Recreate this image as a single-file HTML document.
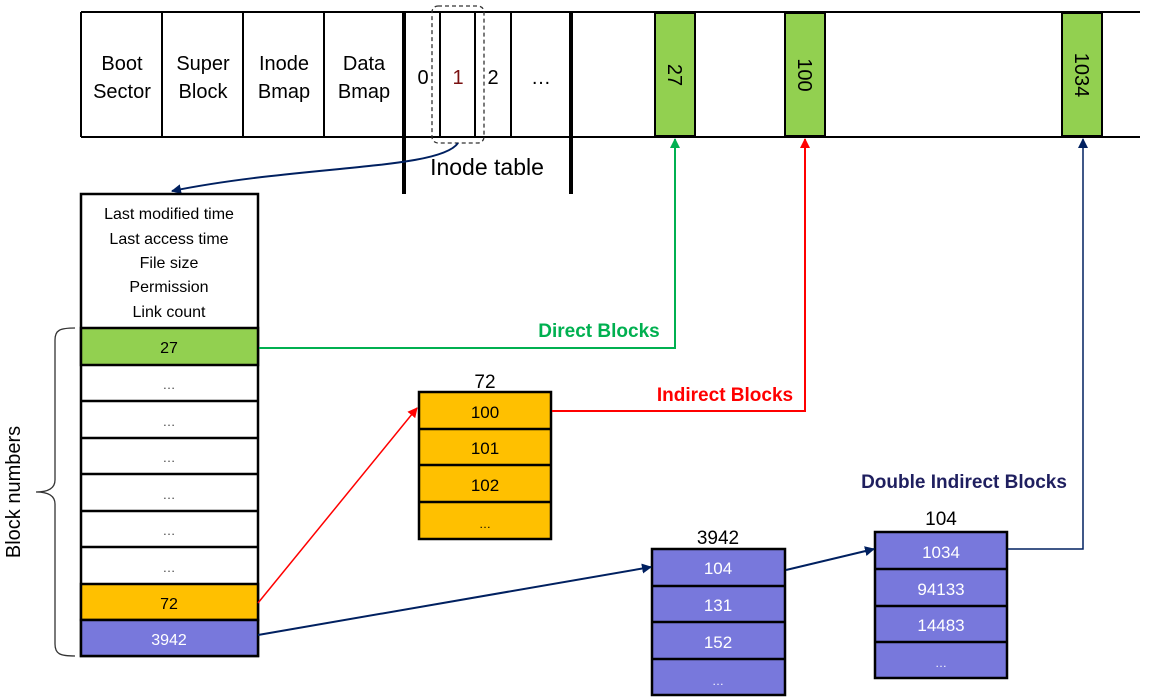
<!DOCTYPE html>
<html><head><meta charset="utf-8"><style>
html,body{margin:0;padding:0;background:#fff;}
svg{display:block;font-family:"Liberation Sans",sans-serif;}
</style></head><body>
<svg width="1151" height="698" viewBox="0 0 1151 698" xmlns="http://www.w3.org/2000/svg">
<defs>
<marker id="ag" markerWidth="10" markerHeight="10" refX="9" refY="5" orient="auto" markerUnits="userSpaceOnUse"><path d="M0,0 L10,5 L0,10 z" fill="#00b050"/></marker>
<marker id="ar" markerWidth="10" markerHeight="10" refX="9" refY="5" orient="auto" markerUnits="userSpaceOnUse"><path d="M0,0 L10,5 L0,10 z" fill="#ff0000"/></marker>
<marker id="an" markerWidth="10" markerHeight="10" refX="9" refY="5" orient="auto" markerUnits="userSpaceOnUse"><path d="M0,0 L10,5 L0,10 z" fill="#002060"/></marker>
</defs>
<g stroke="#000" stroke-width="2" fill="none">
<line x1="81" y1="12" x2="1140" y2="12"/>
<line x1="81" y1="137" x2="1140" y2="137"/>
<line x1="81" y1="12" x2="81" y2="137"/>
<line x1="162" y1="12" x2="162" y2="137"/>
<line x1="243" y1="12" x2="243" y2="137"/>
<line x1="324" y1="12" x2="324" y2="137"/>
<line x1="440" y1="12" x2="440" y2="137"/>
<line x1="475" y1="12" x2="475" y2="137"/>
<line x1="511" y1="12" x2="511" y2="137"/>
</g>
<line x1="404" y1="12" x2="404" y2="194" stroke="#000" stroke-width="4"/>
<line x1="571" y1="12" x2="571" y2="194" stroke="#000" stroke-width="4"/>
<g fill="#92d050" stroke="#000" stroke-width="2">
<rect x="655" y="13" width="40" height="123"/>
<rect x="785" y="13" width="40" height="123"/>
<rect x="1062" y="13" width="40" height="123"/>
</g>
<g font-size="20" text-anchor="middle" fill="#000">
<text x="122" y="70">Boot</text><text x="122" y="98">Sector</text>
<text x="203" y="70">Super</text><text x="203" y="98">Block</text>
<text x="284" y="70">Inode</text><text x="284" y="98">Bmap</text>
<text x="364" y="70">Data</text><text x="364" y="98">Bmap</text>
<text x="423" y="84">0</text>
<text x="458" y="84" fill="#7a1010">1</text>
<text x="493" y="84">2</text>
<text x="541" y="84">…</text>
<text transform="translate(668,75) rotate(90)" text-anchor="middle">27</text>
<text transform="translate(798,75) rotate(90)" text-anchor="middle">100</text>
<text transform="translate(1075,75) rotate(90)" text-anchor="middle">1034</text>
</g>
<rect x="432" y="6" width="52" height="137" rx="6" fill="none" stroke="#333" stroke-width="1.3" stroke-dasharray="4,3"/>
<text x="487" y="175" font-size="23" text-anchor="middle" fill="#000">Inode table</text>
<path d="M458,143 C440,170 300,165 172,191" fill="none" stroke="#002060" stroke-width="2" marker-end="url(#an)"/>

<g stroke="#000" stroke-width="2.5">
<rect x="81" y="194" width="177" height="462" fill="#fff"/>
<rect x="81" y="328" width="177" height="37" fill="#92d050"/>
<rect x="81" y="584" width="177" height="36" fill="#ffc000"/>
<rect x="81" y="620" width="177" height="36" fill="#7878dc"/>
<line x1="81" y1="401" x2="258" y2="401"/><line x1="81" y1="438" x2="258" y2="438"/>
<line x1="81" y1="474" x2="258" y2="474"/><line x1="81" y1="511" x2="258" y2="511"/>
<line x1="81" y1="547" x2="258" y2="547"/>
</g>
<g font-size="16" text-anchor="middle" fill="#000">
<text x="169" y="219">Last modified time</text>
<text x="169" y="244">Last access time</text>
<text x="169" y="268">File size</text>
<text x="169" y="292">Permission</text>
<text x="169" y="317">Link count</text>
<text x="169" y="353">27</text>
<g font-size="13" fill="#444">
<text x="169" y="389">…</text><text x="169" y="426">…</text><text x="169" y="462">…</text>
<text x="169" y="499">…</text><text x="169" y="535">…</text><text x="169" y="572">…</text>
</g>
<text x="169" y="609">72</text>
<text x="169" y="645" fill="#fff">3942</text>
</g>
<path d="M75,328 C60,328 55,330 55,340 L55,480 C55,490 45,492 36,492 C45,492 55,494 55,504 L55,644 C55,654 60,656 75,656" fill="none" stroke="#333" stroke-width="1.3"/>
<text transform="translate(20,492) rotate(-90)" font-size="20" text-anchor="middle" fill="#000">Block numbers</text>

<g stroke="#000" stroke-width="2.5">
<rect x="419" y="392" width="132" height="147" fill="#ffc000"/>
<line x1="419" y1="429" x2="551" y2="429"/><line x1="419" y1="465" x2="551" y2="465"/><line x1="419" y1="502" x2="551" y2="502"/>
</g>
<g font-size="17" text-anchor="middle" fill="#000">
<text x="485" y="388" font-size="19">72</text>
<text x="485" y="418">100</text><text x="485" y="454">101</text><text x="485" y="491">102</text><text x="485" y="528" font-size="12">…</text>
</g>
<g stroke="#000" stroke-width="2.5">
<rect x="652" y="549" width="133" height="146" fill="#7878dc"/>
<line x1="652" y1="586" x2="785" y2="586"/><line x1="652" y1="622" x2="785" y2="622"/><line x1="652" y1="659" x2="785" y2="659"/>
</g>
<g font-size="17" text-anchor="middle" fill="#fff">
<text x="718" y="544" font-size="19" fill="#000">3942</text>
<text x="718" y="574">104</text><text x="718" y="611">131</text><text x="718" y="648">152</text><text x="718" y="685" font-size="12">…</text>
</g>
<g stroke="#000" stroke-width="2.5">
<rect x="875" y="532" width="132" height="146" fill="#7878dc"/>
<line x1="875" y1="569" x2="1007" y2="569"/><line x1="875" y1="606" x2="1007" y2="606"/><line x1="875" y1="642" x2="1007" y2="642"/>
</g>
<g font-size="17" text-anchor="middle" fill="#fff">
<text x="941" y="525" font-size="19" fill="#000">104</text>
<text x="941" y="558">1034</text><text x="941" y="595">94133</text><text x="941" y="631">14483</text><text x="941" y="667" font-size="12">…</text>
</g>

<polyline points="259,348 675,348 675,139" fill="none" stroke="#00b050" stroke-width="2" marker-end="url(#ag)"/>
<text x="599" y="337" font-size="19" font-weight="bold" text-anchor="middle" fill="#00b050">Direct Blocks</text>
<polyline points="552,411 805,411 805,139" fill="none" stroke="#ff0000" stroke-width="2" marker-end="url(#ar)"/>
<text x="725" y="401" font-size="19" font-weight="bold" text-anchor="middle" fill="#ff0000">Indirect Blocks</text>
<line x1="258" y1="603" x2="417" y2="408" stroke="#ff0000" stroke-width="1.5" marker-end="url(#ar)"/>
<line x1="258" y1="635" x2="651" y2="567" stroke="#002060" stroke-width="2" marker-end="url(#an)"/>
<line x1="786" y1="570" x2="874" y2="549" stroke="#002060" stroke-width="2" marker-end="url(#an)"/>
<polyline points="1008,549 1083,549 1083,139" fill="none" stroke="#002060" stroke-width="1.5" marker-end="url(#an)"/>
<text x="964" y="488" font-size="19" font-weight="bold" text-anchor="middle" fill="#1f1f5f">Double Indirect Blocks</text>
</svg>
</body></html>
